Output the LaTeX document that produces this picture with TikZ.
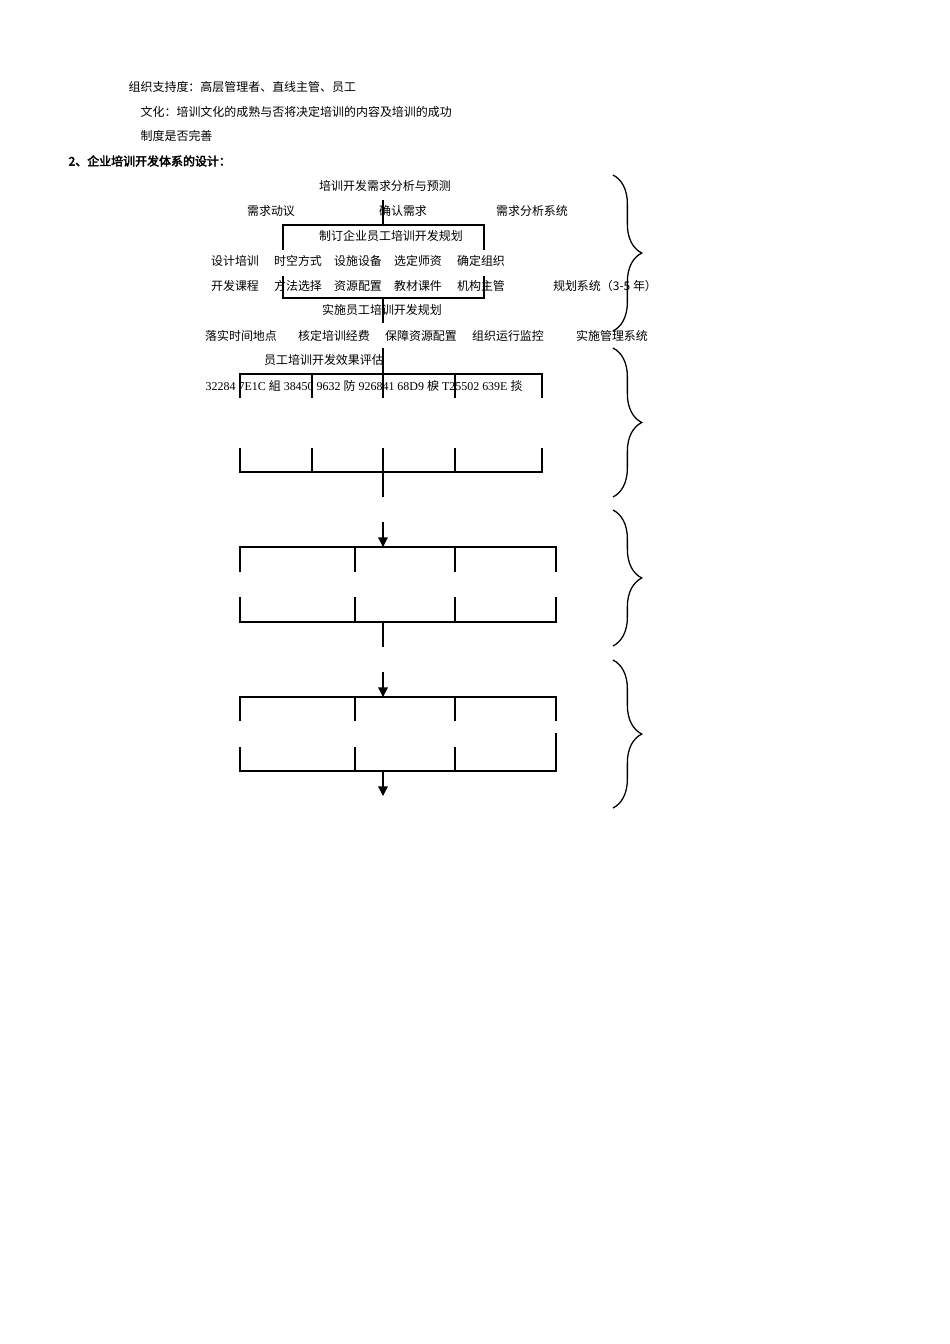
\documentclass[tikz,border=0pt]{standalone}
\usepackage{fontspec}
\setmainfont{Liberation Serif}
\newfontfamily\cjk{Noto Sans CJK SC}
\newfontfamily\cjkb[FakeBold=3]{Noto Sans CJK SC}
\usetikzlibrary{decorations.pathreplacing, arrows.meta}

\begin{document}
\begin{tikzpicture}[
  x=0.6266pt, y=-0.6266pt,
  >={Triangle[length=6pt, width=6pt]},
  line width=0.8pt,
  every node/.style={inner sep=0pt, font=\cjk\fontsize{7.5}{9}\selectfont},
  lft/.style={anchor=west},
  hd/.style={anchor=west, font=\cjkb\fontsize{7.5}{9}\selectfont},
  code/.style={anchor=west, font=\rmfamily\fontsize{7.5}{9}\selectfont},
  brc/.style={decorate, decoration={brace, amplitude=18pt}}
]
  \useasboundingbox (0,0) rectangle (950,1344);

  % heading lines
  \node (t1) [lft] at (128,87) {组织支持度：高层管理者、直线主管、员工};
  \node (t2) [lft] at (140,112) {文化：培训文化的成熟与否将决定培训的内容及培训的成功};
  \node (t3) [lft] at (140,136) {制度是否完善};
  \node (t4) [hd] at (68,161) {2、企业培训开发体系的设计：};

  % planning part
  \node (need) at (385,186) {培训开发需求分析与预测};
  \node (r1a) at (271,211) {需求动议};
  \node (r1b) at (403,211) {确认需求};
  \node (r1c) at (532,211) {需求分析系统};
  \node (plan) at (391,236) {制订企业员工培训开发规划};
  \node (d1) at (235,261) {设计培训};
  \node (d2) at (298,261) {时空方式};
  \node (d3) at (358,261) {设施设备};
  \node (d4) at (418,261) {选定师资};
  \node (d5) at (481,261) {确定组织};
  \node (k1) at (235,286) {开发课程};
  \node (k2) at (298,286) {方法选择};
  \node (k3) at (358,286) {资源配置};
  \node (k4) at (418,286) {教材课件};
  \node (k5) at (481,286) {机构主管};
  \node (psys) at (605,286) {规划系统（3-5 年）};
  \node (impl) at (382,310) {实施员工培训开发规划};
  \node (m1) at (241,336) {落实时间地点};
  \node (m2) at (334,336) {核定培训经费};
  \node (m3) at (421,336) {保障资源配置};
  \node (m4) at (508,336) {组织运行监控};
  \node (msys) at (612,336) {实施管理系统};
  \node (eval) at (324,360) {员工培训开发效果评估};
  \node (codes) [code] at (205,386) {32284 7E1C {\cjk 組} 38450 9632 {\cjk 防} 926841 68D9 {\cjk 棙} T25502 639E {\cjk 掞}};

  % plan box
  \coordinate (p0) at (383,200);
  \draw (p0) -- (383,225);
  \draw (283,250) -- (283,225) -- (484,225) -- (484,250);
  \draw (283,276) -- (283,298) -- (484,298) -- (484,276);
  \draw (383,298) -- (383,323);
  \draw (383,348) -- (383,374);

  % evaluation box
  \draw (240,398) -- (240,374) -- (542,374) -- (542,398);
  \draw (240,448) -- (240,472) -- (542,472) -- (542,448);
  \foreach \x in {312,383,455} {
    \draw (\x,374) -- (\x,398);
    \draw (\x,448) -- (\x,472);
  }
  \draw (383,472) -- (383,497);

  % second box
  \coordinate (a3) at (383,522);
  \coordinate (b3) at (383,547);
  \draw[->] (a3) -- (b3);
  \draw (240,572) -- (240,547) -- (556,547) -- (556,572);
  \draw (240,597) -- (240,622) -- (556,622) -- (556,597);
  \foreach \x in {355,455} {
    \draw (\x,547) -- (\x,572);
    \draw (\x,597) -- (\x,622);
  }
  \draw (383,622) -- (383,647);

  % third box
  \coordinate (a4) at (383,672);
  \coordinate (b4) at (383,697);
  \draw[->] (a4) -- (b4);
  \draw (240,721) -- (240,697) -- (556,697) -- (556,721);
  \draw (240,747) -- (240,771) -- (556,771) -- (556,733);
  \foreach \x in {355,455} {
    \draw (\x,697) -- (\x,721);
    \draw (\x,747) -- (\x,771);
  }
  \coordinate (c4) at (383,771);
  \coordinate (e4) at (383,796);
  \draw[->] (c4) -- (e4);

  % braces
  \draw[brc] (613,175) -- (613,331);
  \draw[brc] (613,348) -- (613,497);
  \draw[brc] (613,510) -- (613,646);
  \draw[brc] (613,660) -- (613,808);
\end{tikzpicture}
\end{document}
